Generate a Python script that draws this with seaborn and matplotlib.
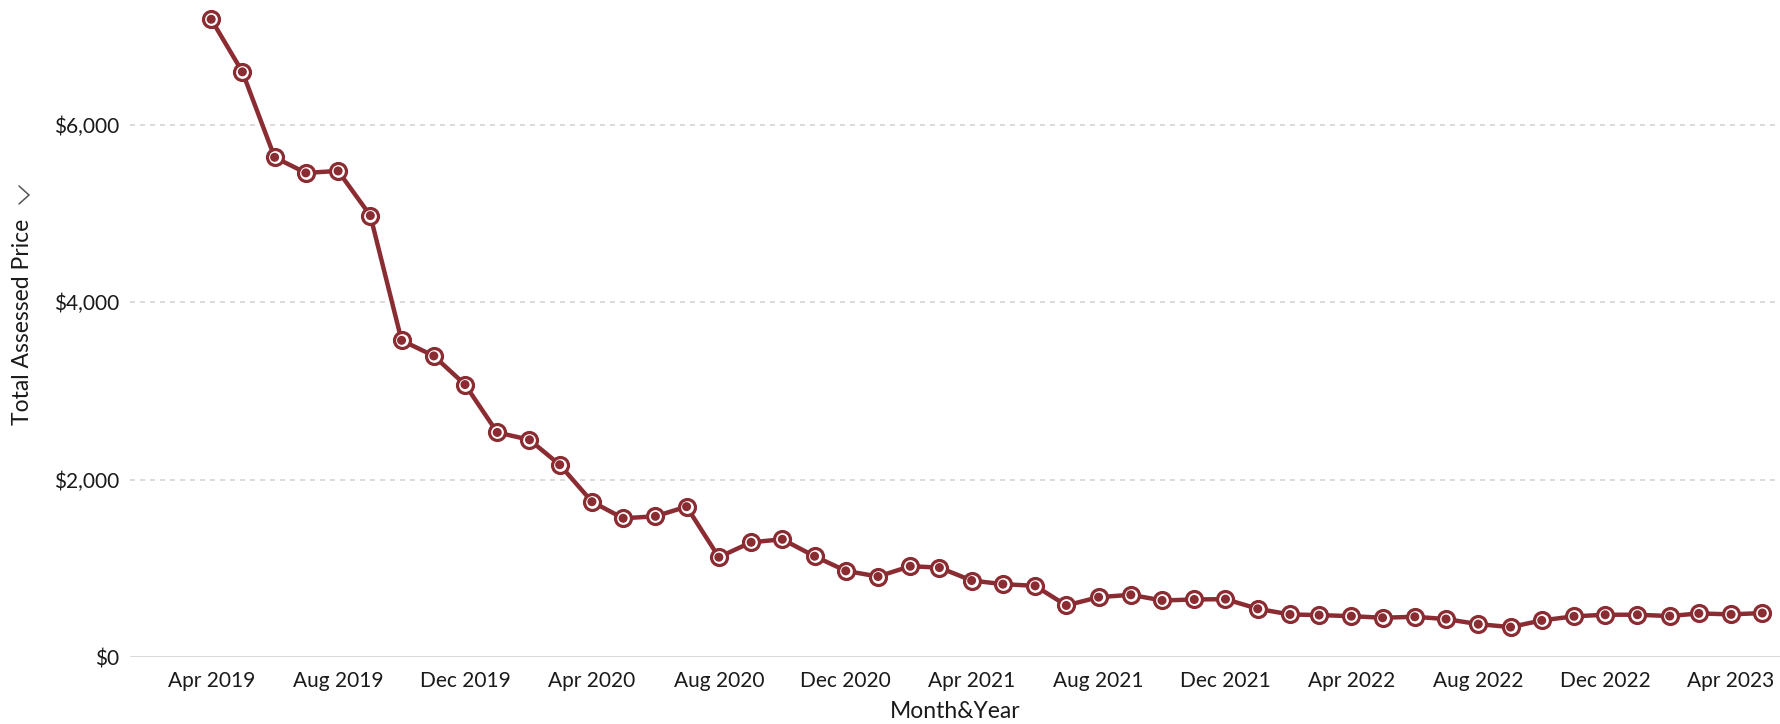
import pandas as pd
import numpy as np
import matplotlib.pyplot as plt
import matplotlib.dates as mdates
import matplotlib.ticker as mticker
from matplotlib.lines import Line2D
import seaborn as sns

# monthly average total assessed price, Apr 2019 - May 2023
months = pd.date_range('2019-04-01', periods=50, freq='MS')
price = [
    7193, 6600, 5636, 5460, 5482, 4979, 3572, 3396, 3073,            # 2019
    2533, 2450, 2169, 1752, 1565, 1587, 1696, 1126, 1294, 1328, 1137, 972,  # 2020
    908, 1024, 1009, 863, 822, 803, 582, 675, 702, 638, 649, 653,     # 2021
    544, 480, 473, 461, 443, 454, 428, 371, 338, 413, 459, 477,       # 2022
    477, 462, 492, 481, 496,                                          # 2023
]
y_ticks = [0, 2000, 4000, 6000]

df = pd.DataFrame({'month': months, 'price': price})

maroon = '#8b2c33'

sns.set_theme(style='white')
plt.rcParams['font.family'] = ['Lato', 'DejaVu Sans']

W, H = 1781, 724
fig = plt.figure(figsize=(W / 100, H / 100), dpi=100)
ax = fig.add_axes([0.073, 0.0925, 0.927, 0.9075])

# dashed grid + light baseline
for v in y_ticks[1:]:
    ax.axhline(v, color='#d4d4d4', lw=1.2, ls=(0, (3, 3)), zorder=0)
ax.axhline(0, color='#d6d6d6', lw=2, zorder=0)

sns.lineplot(data=df, x='month', y='price', color=maroon, lw=3.2,
             marker='o', ms=11.5, mfc='white', mec=maroon, mew=2.3,
             ax=ax, clip_on=False, zorder=3)
sns.scatterplot(data=df, x='month', y='price', color=maroon, s=6.5 ** 2,
                edgecolor='none', ax=ax, clip_on=False, zorder=4)

ax.set_ylim(0, 7410)
ax.set_xlim(pd.Timestamp('2019-01-13'), pd.Timestamp('2023-05-19'))
ax.set_yticks(y_ticks)
ax.yaxis.set_major_formatter(mticker.FuncFormatter(lambda v, p: f'${v:,.0f}'))
ax.xaxis.set_major_locator(mdates.MonthLocator(bymonth=[4, 8, 12]))
ax.xaxis.set_major_formatter(mdates.DateFormatter('%b %Y'))

for s in ax.spines.values():
    s.set_visible(False)
ax.tick_params(axis='both', length=0, labelsize=15, colors='#1a1a1a')
ax.tick_params(axis='x', pad=10)
ax.tick_params(axis='y', pad=8)

ax.set_xlabel('Month&Year', fontsize=16.5, color='#1a1a1a', labelpad=7)
ax.set_ylabel('')
fig.text(0.0125, 0.555, 'Total Assessed Price', rotation=90, fontsize=16.5,
         color='#1a1a1a', ha='center', va='center')

# dropdown chevron next to the axis title
cx = [19 / W, 29 / W, 19 / W]
cy = [1 - 186 / H, 1 - 195 / H, 1 - 204 / H]
fig.add_artist(Line2D(cx, cy, transform=fig.transFigure, color='#555555',
                      lw=1.1, solid_joinstyle='miter'))

fig.savefig('out.png', dpi=100)
